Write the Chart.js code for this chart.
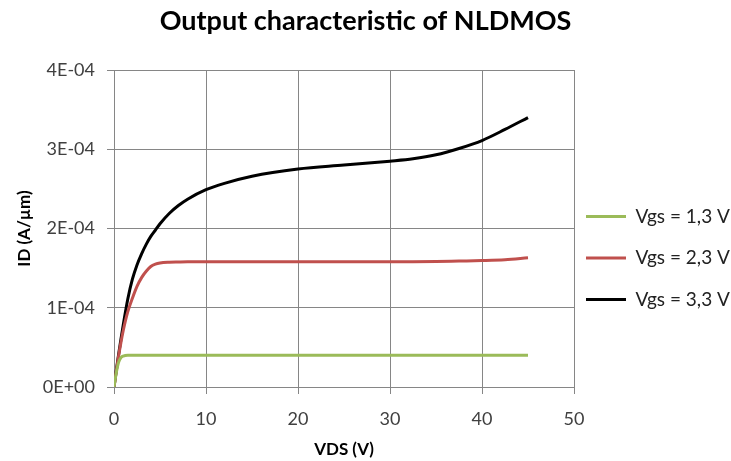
<!DOCTYPE html>
<html>
<head>
<meta charset="utf-8">
<script src="https://cdn.jsdelivr.net/npm/chart.js@4/dist/chart.umd.min.js"></script>
<style>
  body { margin: 0; background: #fff; }
  #wrap { width: 731px; height: 461px; position: relative; }
</style>
</head>
<body>
<div id="wrap"><canvas id="ivChart"></canvas></div>
<script>
const vds = [0, 0.25, 0.5, 0.75, 1, 1.5, 2, 2.5, 3, 3.5, 4, 4.5, 5, 6, 7, 8, 10, 12, 15, 20, 25, 30, 32.5, 35, 37.5, 40, 42.5, 45];

const idVgs13 = [0, 0.18e-4, 0.31e-4, 0.37e-4, 0.39e-4, 0.40e-4, 0.40e-4, 0.40e-4, 0.40e-4, 0.40e-4, 0.40e-4, 0.40e-4, 0.40e-4, 0.40e-4,
  0.40e-4, 0.40e-4, 0.40e-4, 0.40e-4, 0.40e-4, 0.40e-4, 0.40e-4, 0.40e-4, 0.40e-4, 0.40e-4, 0.40e-4, 0.40e-4, 0.40e-4, 0.40e-4];

const idVgs23 = [0, 0.20e-4, 0.39e-4, 0.56e-4, 0.71e-4, 0.95e-4, 1.12e-4, 1.27e-4, 1.38e-4, 1.46e-4, 1.52e-4, 1.55e-4, 1.565e-4, 1.575e-4,
  1.578e-4, 1.58e-4, 1.58e-4, 1.58e-4, 1.58e-4, 1.58e-4, 1.58e-4, 1.58e-4, 1.582e-4, 1.585e-4, 1.59e-4, 1.595e-4, 1.605e-4, 1.63e-4];

const idVgs33 = [0, 0.21e-4, 0.41e-4, 0.60e-4, 0.78e-4, 1.11e-4, 1.36e-4, 1.54e-4, 1.68e-4, 1.80e-4, 1.90e-4, 1.98e-4, 2.06e-4, 2.19e-4,
  2.29e-4, 2.37e-4, 2.49e-4, 2.57e-4, 2.66e-4, 2.75e-4, 2.80e-4, 2.85e-4, 2.88e-4, 2.93e-4, 3.01e-4, 3.11e-4, 3.25e-4, 3.40e-4];

const seriesNames = ['Vgs = 1,3 V', 'Vgs = 2,3 V', 'Vgs = 3,3 V'];
const seriesColors = ['#9bbb59', '#c0504d', '#000000'];
const yTickLabels = ['0E+00', '1E-04', '2E-04', '3E-04', '4E-04'];

const FONT = 'Lato, "Open Sans", sans-serif';
const GRID = '#868686';

function toPoints(ys) {
  return vds.map((x, i) => ({ x: x, y: ys[i] }));
}

const seriesValues = [idVgs13, idVgs23, idVgs33];

// label as a one-line array so the legend row height follows font.lineHeight
const datasets = seriesValues.map((ys, i) => ({
  label: [seriesNames[i]],
  data: toPoints(ys),
  borderColor: seriesColors[i],
  backgroundColor: seriesColors[i],
  borderWidth: 3,
  pointRadius: 0,
  showLine: true,
  fill: false,
  cubicInterpolationMode: 'monotone'
}));

const ctx = document.getElementById('ivChart').getContext('2d');

new Chart(ctx, {
  type: 'scatter',
  data: { datasets: datasets },
  options: {
    responsive: true,
    maintainAspectRatio: false,
    animation: false,
    layout: { padding: 0 },
    plugins: {
      title: {
        display: true,
        text: 'Output characteristic of NLDMOS',
        color: '#000',
        font: { family: FONT, size: 27, weight: 'bold', lineHeight: 1.2 },
        padding: { top: 5, bottom: 32.6 }
      },
      legend: {
        position: 'right',
        maxWidth: 157,
        title: {
          display: true,
          text: ' ',
          font: { size: 10, lineHeight: 1.2 },
          padding: { top: 53.5, bottom: 0 }
        },
        labels: {
          usePointStyle: true,
          pointStyle: 'line',
          pointStyleWidth: 40,
          padding: 12,
          color: '#222',
          font: { family: FONT, size: 19, lineHeight: 1.553 }
        }
      },
      tooltip: { enabled: false }
    },
    scales: {
      x: {
        type: 'linear',
        min: 0,
        max: 50,
        ticks: {
          stepSize: 10,
          color: '#404040',
          padding: 14,
          font: { family: FONT, size: 18 }
        },
        grid: { color: GRID, lineWidth: 1, tickLength: 7 },
        border: { color: GRID },
        title: {
          display: true,
          text: 'VDS (V)',
          color: '#000',
          font: { family: FONT, size: 17, weight: 'bold', lineHeight: 1.2 },
          padding: { top: 0, bottom: 1 }
        },
        afterFit: (scale) => { scale.height = 74; }
      },
      y: {
        type: 'linear',
        min: 0,
        max: 4e-4,
        ticks: {
          stepSize: 1e-4,
          color: '#404040',
          padding: 12,
          font: { family: FONT, size: 18 },
          callback: (value, index) => yTickLabels[index]
        },
        grid: { color: GRID, lineWidth: 1, tickLength: 7 },
        border: { color: GRID },
        title: {
          display: true,
          text: 'ID (A/µm)',
          color: '#000',
          font: { family: FONT, size: 17, weight: 'bold', lineHeight: 1.2 },
          padding: { top: 14, bottom: 0 }
        },
        afterFit: (scale) => { scale.width = 114; }
      }
    }
  }
});
</script>
</body>
</html>
